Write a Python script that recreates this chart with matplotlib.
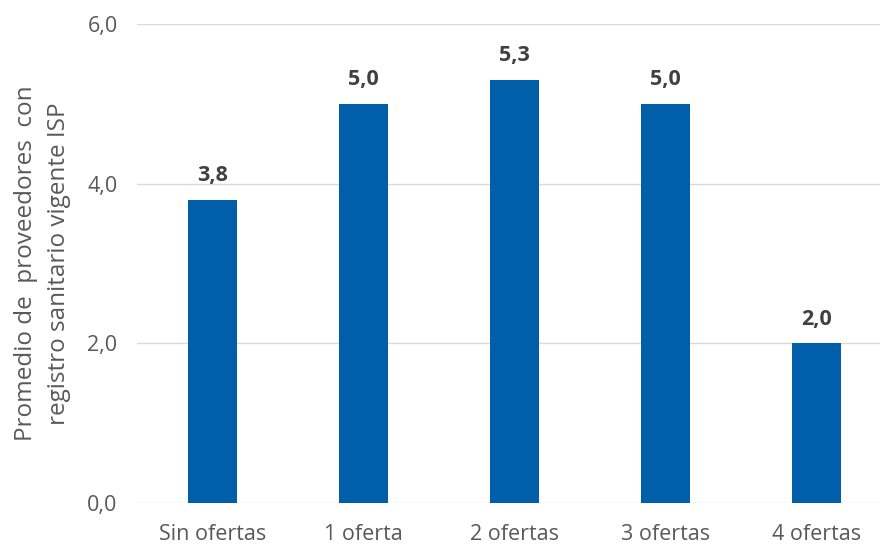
import matplotlib.pyplot as plt
import numpy as np

categories = ['Sin ofertas', '1 oferta', '2 ofertas', '3 ofertas', '4 ofertas']
promedio = [3.8, 5.0, 5.3, 5.0, 2.0]
y_ticks = [0, 2, 4, 6]

plt.rcParams['font.family'] = ['Open Sans', 'DejaVu Sans']

fig = plt.figure(figsize=(8.8, 5.48), dpi=100)
ax = fig.add_axes([137 / 880, 45 / 548, 743 / 880, 479 / 548])

x = np.arange(len(categories))
bars = ax.bar(x, promedio, width=0.32, color='#005FA8', zorder=3)

for b, v in zip(bars, promedio):
    ax.text(b.get_x() + b.get_width() / 2, v + 0.17, f'{v:.1f}'.replace('.', ','),
            ha='center', va='bottom', fontsize=15.5, fontweight='bold', color='#404040')

ax.set_xlim(-0.5, 4.42)
ax.set_ylim(0, 6)
ax.set_yticks(y_ticks)
ax.set_yticklabels([f'{t:.1f}'.replace('.', ',') for t in y_ticks])
ax.set_xticks(x)
ax.set_xticklabels(categories)
ax.tick_params(axis='both', length=0, labelsize=15.5, labelcolor='#595959')
ax.tick_params(axis='x', pad=15)
ax.tick_params(axis='y', pad=14)
ax.grid(axis='y', color='#d9d9d9', linewidth=1, zorder=0)
for s in ax.spines.values():
    s.set_visible(False)

ax.set_ylabel('Promedio de  proveedores  con\nregistro sanitario vigente ISP',
              fontsize=17.5, color='#595959', labelpad=12, linespacing=1.45)

fig.savefig('out.png', dpi=100)
